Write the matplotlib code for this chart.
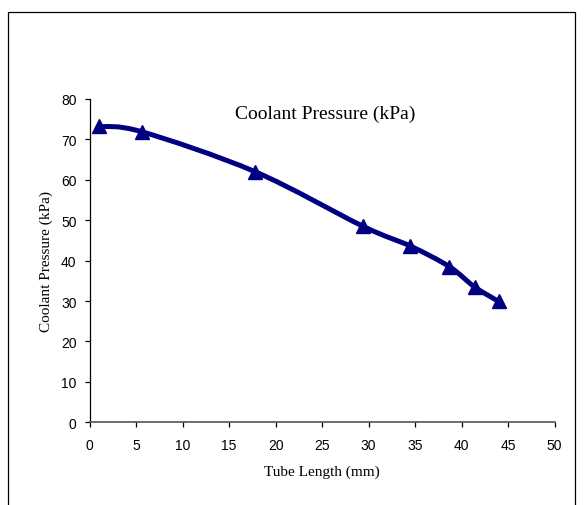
import matplotlib
matplotlib.use('Agg')
import matplotlib.pyplot as plt
import numpy as np
from matplotlib.path import Path
from matplotlib.patches import PathPatch
from matplotlib.lines import Line2D

tube_length = [1.0, 5.6, 17.8, 29.4, 34.5, 38.7, 41.4, 44.0]
coolant_pressure = [73.2, 71.9, 62.0, 48.5, 43.6, 38.5, 33.5, 29.9]
x_ticks = [0, 5, 10, 15, 20, 25, 30, 35, 40, 45, 50]
y_ticks = [0, 10, 20, 30, 40, 50, 60, 70, 80]

output_path = 'out.png'
navy = '#000080'


def smooth_path(xs, ys):
    """Excel-like smoothed line: cubic bezier through every point."""
    pts = np.column_stack([xs, ys])
    n = len(pts)
    verts = [pts[0]]
    codes = [Path.MOVETO]
    for i in range(n - 1):
        p0 = pts[i - 1] if i > 0 else pts[i]
        p1 = pts[i]
        p2 = pts[i + 1]
        p3 = pts[i + 2] if i + 2 < n else pts[i + 1]
        c1 = p1 + (p2 - p0) / 6.0
        c2 = p2 - (p3 - p1) / 6.0
        verts += [c1, c2, p2]
        codes += [Path.CURVE4] * 3
    return Path(verts, codes)


fig = plt.figure(figsize=(5.84, 5.06), dpi=100)
ax = fig.add_axes([0.1536, 0.1634, 0.7959, 0.639])

ax.add_patch(PathPatch(smooth_path(tube_length, coolant_pressure), fill=False,
                       edgecolor=navy, linewidth=3.6, capstyle='round',
                       joinstyle='round', zorder=3))
ax.plot(tube_length, coolant_pressure, linestyle='none', marker='^',
        markersize=10.5, color=navy, zorder=4)

ax.set_xlim(0, 50)
ax.set_ylim(0, 80)
ax.set_xticks(x_ticks)
ax.set_yticks(y_ticks)
ax.spines['top'].set_visible(False)
ax.spines['right'].set_visible(False)
ax.spines['left'].set_linewidth(0.9)
ax.spines['bottom'].set_linewidth(1.2)
ax.spines['bottom'].set_color('#555555')
ax.tick_params(axis='both', direction='out', length=3.5, width=0.9,
               labelsize=10)
ax.tick_params(axis='x', pad=8)
ax.tick_params(axis='y', pad=6)
for lab in ax.get_xticklabels() + ax.get_yticklabels():
    lab.set_fontfamily('Liberation Sans')

serif = 'Liberation Serif'
ax.set_xlabel('Tube Length (mm)', fontfamily=serif, fontsize=11, labelpad=9)
ax.set_ylabel('Coolant Pressure (kPa)', fontfamily=serif, fontsize=11,
              labelpad=6)
fig.text(325 / 584, 1 - 114 / 506, 'Coolant Pressure (kPa)', fontfamily=serif,
         fontsize=14, ha='center', va='center')

# chart area frame (bottom edge is cut off in the reference)
W, H = 584, 506
frame_x = [7.5 / W, 7.5 / W, 574.5 / W, 574.5 / W]
frame_y = [0.0, 1 - 12.5 / H, 1 - 12.5 / H, 0.0]
fig.add_artist(Line2D(frame_x, frame_y, transform=fig.transFigure,
                      color='black', linewidth=0.9))

plt.savefig(output_path, dpi=100)
